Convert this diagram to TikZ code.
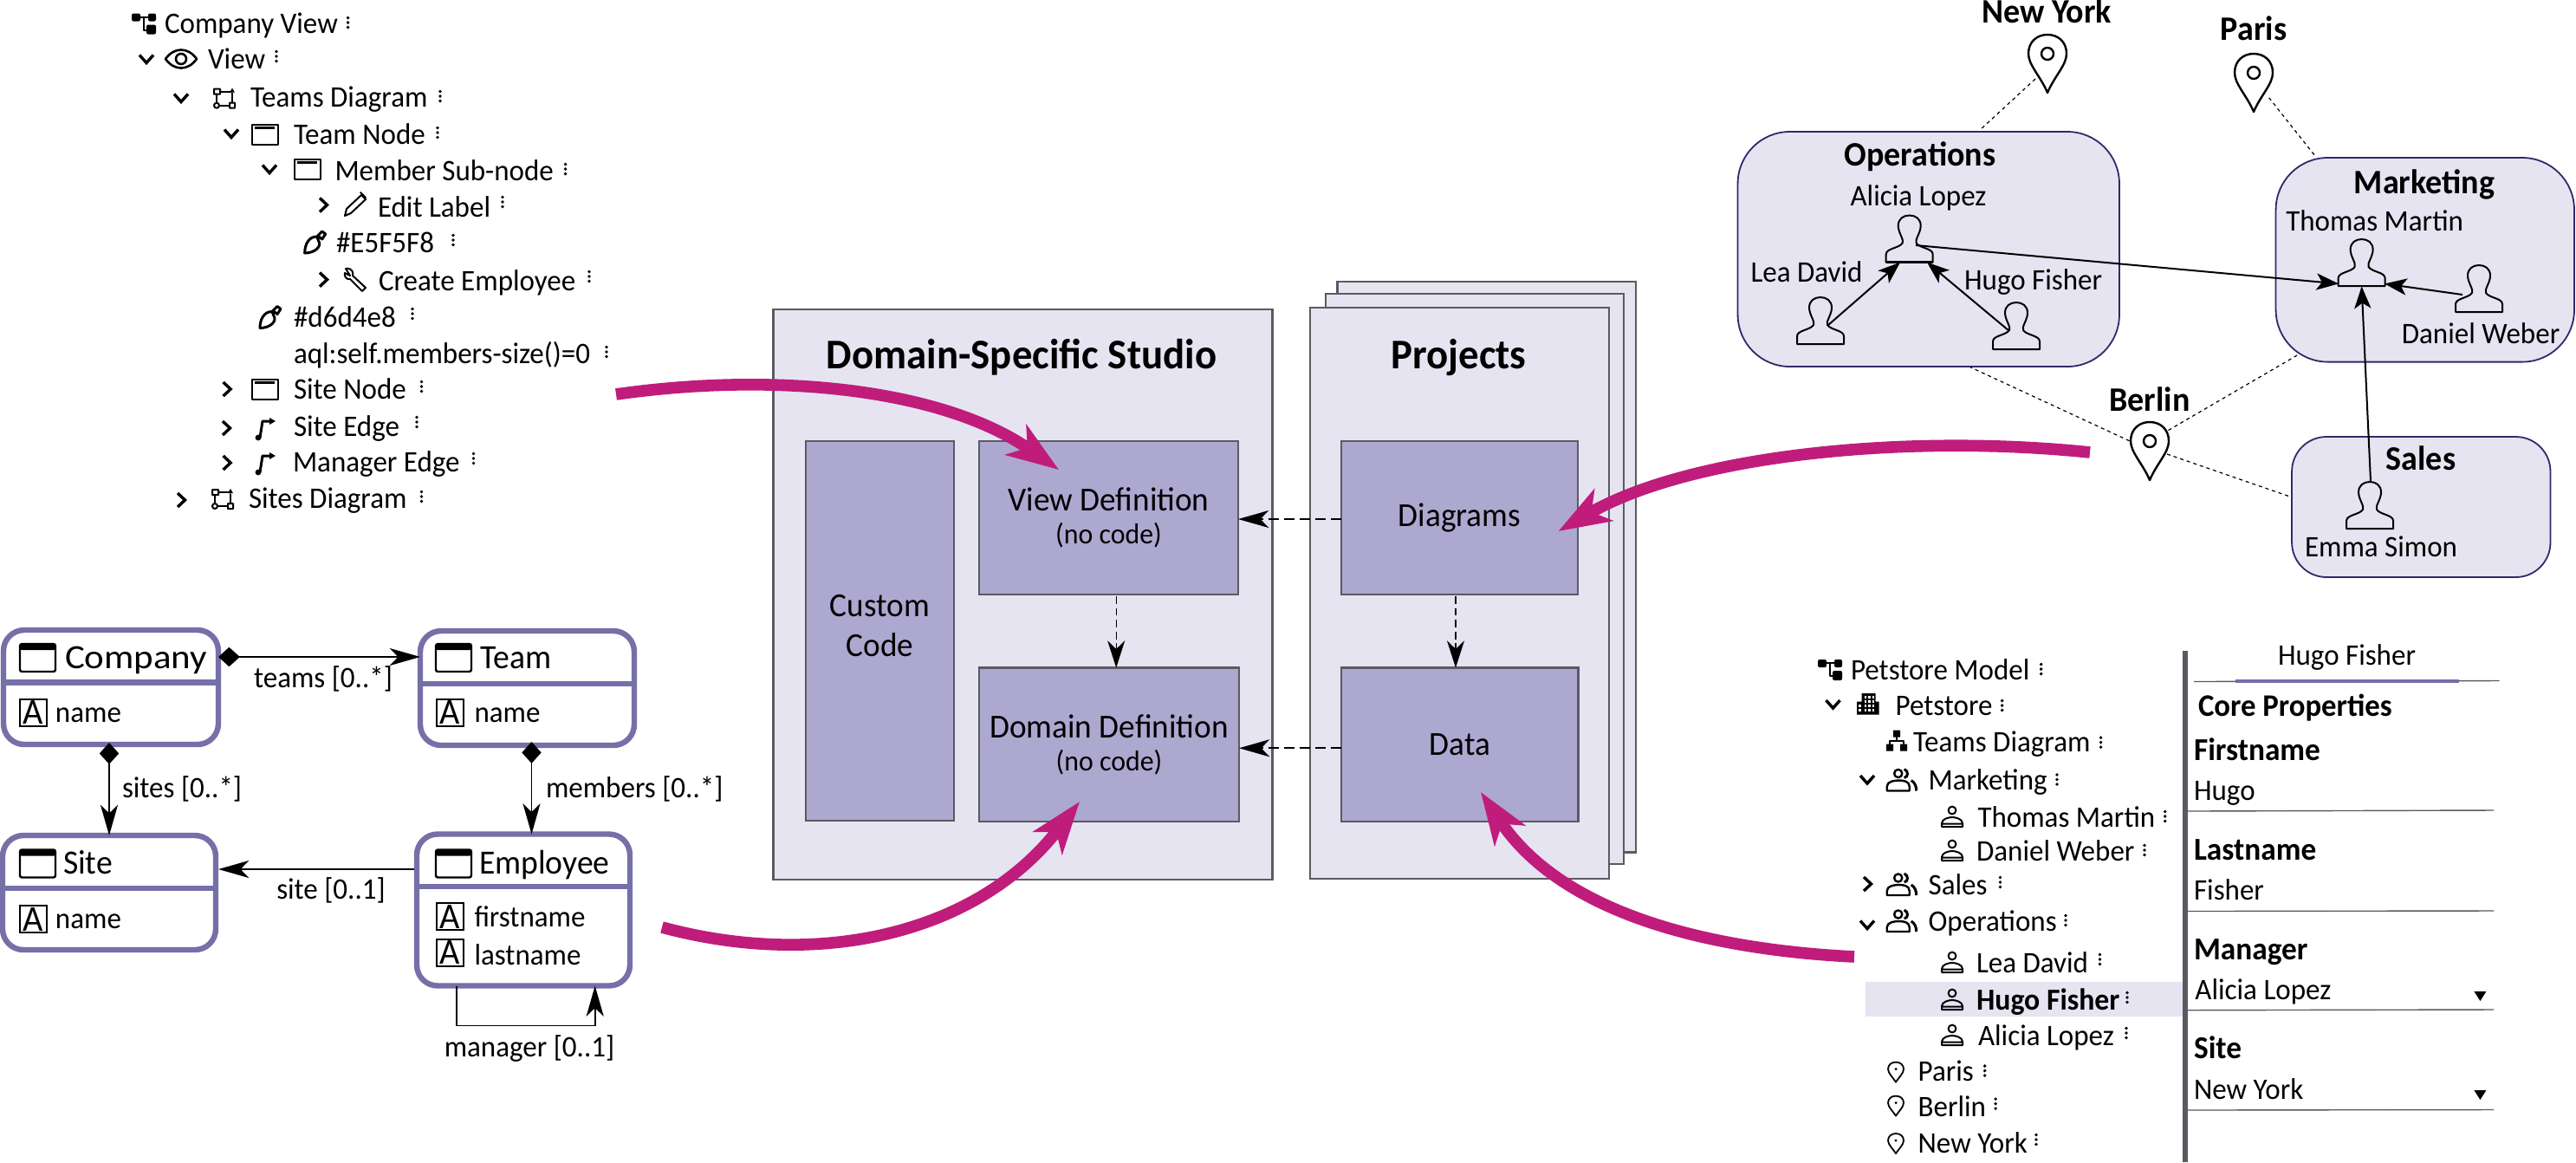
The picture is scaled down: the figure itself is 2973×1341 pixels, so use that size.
\documentclass[tikz,border=0pt]{standalone}
\usepackage{fontspec}
\usepackage{graphicx}
\setmainfont[FakeStretch=0.96]{Carlito}
\usetikzlibrary{arrows.meta,calc}
\definecolor{lilac}{HTML}{E6E4F1}
\definecolor{lilacd}{HTML}{ADA8D0}
\definecolor{umlc}{HTML}{7570A8}
\definecolor{mag}{HTML}{C01C7C}
\definecolor{edgeg}{HTML}{5A5A62}
\definecolor{navy}{HTML}{2E2A6A}
\newcommand\pxnode[7]{\node (#1) [#2, minimum width={(#5-#3)*.25pt}, minimum height={(#6-#4)*.25pt}] at ({(#3+#5)/2},{(#4+#6)/2}) {#7};}
\newcommand\rowt[4]{\node (#1) [treetxt] at (#2,#3) {#4};}
\newcommand\ic[3]{\pic at (#2,#3) {#1};}
\newcommand\keb[2]{\pic at (#1,#2) {ickeb};}
\tikzset{
  barb/.tip={Stealth[length=8.8pt,width=5pt,inset=2.4pt]},
  barbs/.tip={Stealth[length=7.8pt,width=5pt,inset=2.4pt]},
  maghead/.tip={Stealth[length=15pt,width=10.5pt,inset=4pt]},
  dia/.tip={Diamond[length=6.2pt,width=5.6pt]},
  base/.style={inner sep=0pt,outer sep=0pt},
  treetxt/.style={base,anchor=west,font=\fontsize{8.6}{10}\selectfont,text height=5.5pt,text depth=0pt},
  ctxt/.style={base,anchor=center,font=\fontsize{8.6}{10}\selectfont,text height=5.5pt,text depth=0pt},
  boldt/.style={base,anchor=center,font=\fontsize{9.9}{11}\selectfont\bfseries,text height=6pt,text depth=0pt},
  bigt/.style={base,anchor=center,font=\fontsize{12.2}{14}\selectfont\bfseries,text height=7.6pt,text depth=0pt},
  formh/.style={base,anchor=west,font=\fontsize{9.2}{10}\selectfont\bfseries,text height=5.5pt,text depth=0pt},
  outer/.style={base,draw=edgeg,fill=lilac,line width=.55pt},
  inner/.style={base,draw=edgeg,fill=lilacd,line width=.55pt,align=center,font=\fontsize{9.7}{11}\selectfont},
  umlbox/.style={base,draw=umlc,fill=white,line width=1.6pt,rounded corners=6pt},
  team/.style={base,draw=navy,fill=lilac,line width=.45pt},
  umltitle/.style={base,anchor=west,font=\fontsize{9.8}{11}\selectfont,text height=6pt,text depth=0pt},
  attrbox/.style={base,draw=black,line width=.5pt,minimum width=7.6pt,minimum height=7.6pt,font=\fontsize{10.5}{10}\selectfont},
  assoc/.style={line width=.45pt,black},
  magarrow/.style={line width=3.4pt,mag,-{maghead}},
  dep/.style={line width=.5pt,dashed,dash pattern=on 3pt off 1.5pt,-{barb}},
  depv/.style={line width=.35pt,dash pattern=on 2.2pt off 1.2pt,-{barbs}},
  loc/.style={line width=.3pt,dash pattern=on 1pt off 1pt},
  empl/.style={line width=.5pt,-{Stealth[length=6.4pt,width=4.8pt,inset=1.6pt]}},
  icon/.style={line width=.5pt,black,line join=round,line cap=round},
  ruleg/.style={draw=edgeg,line width=.35pt},
  pics/ickeb/.style={code={\fill (0,-5.5) circle (1.9) (0,0) circle (1.9) (0,5.5) circle (1.9);}},
  pics/icdown/.style={code={\draw[line width=.85pt] (-8,-4.5) -- (0,4.5) -- (8,-4.5);}},
  pics/icright/.style={code={\draw[line width=.85pt] (-4,-8) -- (4.5,0) -- (-4,8);}},
  pics/icmodel/.style={code={\fill[rounded corners=.5pt] (-14,-12) rectangle (-4,-3) (5,-12) rectangle (14,-3) (3,1) rectangle (14,12);\draw[icon] (-4,-8) -- (5,-8) (0,-8) -- (0,7) -- (3,7);}},
  pics/iceye/.style={code={\draw[icon,line width=.65pt] (-18,0) .. controls (-8,-14) and (8,-14) .. (18,0) .. controls (8,14) and (-8,14) .. (-18,0) -- cycle (0,0) circle (6);}},
  pics/icdiag/.style={code={\draw[icon] (-12,-11) rectangle (-5,-5) (-9,8) circle (3) (6,5) rectangle (12,11);\draw[icon] (-5,-8) -- (8,-8) (-9,-5) -- (-9,5) (-6,8) -- (6,8) (9,-6) -- (9,5);\fill (9,-12) -- (12,-7) -- (6,-7) -- cycle;}},
  pics/icwin/.style={code={\draw[icon] (-15,-11.5) rectangle (15,11.5);\draw[line width=.75pt] (-11.5,-7.5) -- (11.5,-7.5);}},
  pics/icpen/.style={code={\draw[icon] (-12,13) -- (-10,5) -- (7,-11) -- (12,-6) -- (-5,10) -- cycle (6,-14) -- (12,-8);}},
  pics/icbrush/.style={code={\draw[icon,line width=.75pt] (-12,13) .. controls (-12,4) and (-8,-6) .. (2,-6) -- (4,-1) .. controls (8,5) and (0,13) .. (-12,13) -- cycle (3,-7) -- (8,-12) -- (12,-9) -- (8,-3) -- cycle;}},
  pics/icwrench/.style={code={\draw[icon] (-11,-13) .. controls (-3,-14) and (-2,-8) .. (-3,-5) -- (12,9) -- (8,13) -- (-6,-1) .. controls (-10,0) and (-13,-4) .. (-12,-8) -- (-6,-5) -- cycle;}},
  pics/icedge/.style={code={\fill (-8,11) circle (3.4);\draw[icon,line width=.75pt] (-6,11) -- (-3,-8) -- (6,-8);\fill (5,-12) -- (12,-8) -- (5,-4) -- cycle;}},
  pics/icbuild/.style={code={\fill (-7,-12.5) rectangle (9,12) (-12.5,-3) rectangle (13,12);
    \foreach \hx in {-4,.5,5}{\foreach \hy in {-9.5,-4.5,.5,5.5}{\fill[white] (\hx,\hy) rectangle ++(2.6,2.8);}}
    \foreach \hy in {.5,5.5}{\fill[white] (-10.5,\hy) rectangle ++(2.4,2.8);}}},
  pics/icorg/.style={code={\fill (-4,-12) rectangle (4,-4) (-12,4) rectangle (-4,12) (4,4) rectangle (12,12);\draw[icon] (0,-4) -- (0,0) (-8,4) -- (-8,0) -- (8,0) -- (8,4);}},
  pics/icgroup/.style={code={\draw[icon,line width=.6pt] (-4,-7) circle (4.6) (-17,13) -- (-17,8) .. controls (-17,2) and (-8,1) .. (-3,1) .. controls (2,1) and (9,2) .. (9,8) -- (9,13) -- cycle;\draw[line width=.75pt] (3,-12) .. controls (8,-10) and (8,-3) .. (3,-2) (11,1) .. controls (15,3) and (17,8) .. (17,13);}},
  pics/icuser/.style={code={\draw[icon,line width=.5pt] (0,-7) circle (4.4) (-12,12) -- (-12,8) .. controls (-12,3) and (-4,1) .. (0,1) .. controls (4,1) and (12,3) .. (12,8) -- (12,12) -- cycle (-12,8.5) -- (12,8.5);}},
  pics/icpin/.style={code={\draw[line width=.6pt,line join=round] (0,67) .. controls (-8,48) and (-22,35) .. (-22,22) .. controls (-22,8) and (-12,0) .. (0,0) .. controls (12,0) and (22,8) .. (22,22) .. controls (22,35) and (8,48) .. (0,67) -- cycle (0,22) circle (7);}},
  pics/icsmallpin/.style={code={\draw[line width=.45pt,line join=round] (0,12) .. controls (-3,7) and (-9,2) .. (-9,-3) .. controls (-9,-8) and (-5,-11) .. (0,-11) .. controls (5,-11) and (9,-8) .. (9,-3) .. controls (9,2) and (3,7) .. (0,12) -- cycle;\fill (0,-3) circle (1.6);}},
  pics/icperson/.style={code={\draw[line width=.5pt,line join=round] (-27,54) -- (-27,45) .. controls (-27,38) and (-12,38) .. (-8,32) .. controls (-6,28) and (-13,20) .. (-13,12) .. controls (-13,4) and (-7,0) .. (0,0) .. controls (7,0) and (13,4) .. (13,12) .. controls (13,20) and (6,28) .. (8,32) .. controls (12,38) and (27,38) .. (27,45) -- (27,54) -- cycle;\draw[line width=.7pt] (-27,54) -- (27,54);}},
  pics/icclass/.style={code={\draw[line width=.6pt,rounded corners=.6pt] (0,0) rectangle (41,32);\fill[rounded corners=.5pt] (0,0) rectangle (41,7);}},
  pics/ictri/.style={code={\fill (-7,-5) -- (7,-5) -- (0,6) -- cycle;}},
}
\begin{document}
\begin{tikzpicture}[x=.25pt,y=-.25pt]
\useasboundingbox (0,0) rectangle (2973,1341);
\fill[white] (0,0) rectangle (2973,1341);

% ---------- top-left tree ----------
\rowt{a1}{190}{27.5}{Company View}\ic{icmodel}{166}{27.5}\keb{401.6}{26}
\rowt{a2}{240}{68}{View}\ic{icdown}{169}{68}\ic{iceye}{209}{68}\keb{319}{65}
\rowt{a3}{289}{112}{Teams Diagram}\ic{icdown}{209}{113}\ic{icdiag}{259}{113.7}\keb{508}{111}
\rowt{a4}{339}{155}{Team Node}\ic{icdown}{267}{154}\ic{icwin}{305.7}{155}\keb{505}{153}
\rowt{a5}{386.5}{197.5}{Member Sub-node}\ic{icdown}{311}{195}\ic{icwin}{354.7}{195}\keb{652.6}{195}
\rowt{a6}{436}{239}{Edit Label}\ic{icright}{373}{236.5}\ic{icpen}{410}{236}\keb{580}{233}
\rowt{a7}{388}{280.5}{\#E5F5F8}\ic{icbrush}{363.7}{279}\keb{523}{277}
\rowt{a8}{437}{324}{Create Employee}\ic{icright}{373}{322.6}\ic{icwrench}{410}{323}\keb{680}{319}
\rowt{a9}{339}{366}{\#d6d4e8}\ic{icbrush}{312}{365.5}\keb{476}{362}
\rowt{a10}{339}{408}{aql:self.members-size()=0}\keb{700}{406}
\rowt{a11}{339}{449}{Site Node}\ic{icright}{261.6}{449}\ic{icwin}{305.7}{449}\keb{486.5}{446}
\rowt{a12}{339}{492}{Site Edge}\ic{icright}{261}{494}\ic{icedge}{306}{494}\keb{481}{487}
\rowt{a13}{338}{533}{Manager Edge}\ic{icright}{261.6}{534}\ic{icedge}{306}{534}\keb{546.5}{529}
\rowt{a14}{287}{575}{Sites Diagram}\ic{icright}{209}{577}\ic{icdiag}{257}{576}\keb{486.5}{573}

% ---------- UML ----------
\pxnode{company}{umlbox}{4}{727}{252}{859}{}
\pxnode{team}{umlbox}{485}{728}{732}{860}{}
\pxnode{site}{umlbox}{3}{964}{249}{1096}{}
\pxnode{employee}{umlbox}{481}{962.5}{727}{1137.5}{}
\draw[umlc,line width=1.6pt] (4,787.5) -- (252,787.5) (485,789) -- (732,789) (3,1025) -- (249,1025) (481,1023) -- (727,1023);
\pic at (23,743) {icclass};\pic at (503,743) {icclass};\pic at (23,980.5) {icclass};\pic at (503,980.5) {icclass};
\node (tcompany) [umltitle] at (75,759) {\scalebox{1.14}[1]{Company}};
\node (tteam) [umltitle] at (554.5,759) {Team};
\node (tsite) [umltitle] at (73,996.5) {Site};
\node (temployee) [umltitle] at (553,996) {Employee};
\node (ac) [attrbox] at (38.5,822.5) {A};\node (nc) [treetxt] at (64,822.5) {name};
\node (at) [attrbox] at (519.5,822.5) {A};\node (nt) [treetxt] at (547.5,822.5) {name};
\node (as) [attrbox] at (38.5,1060.5) {A};\node (ns) [treetxt] at (64,1060) {name};
\node (ae) [attrbox] at (519.5,1057.5) {A};\node (ne) [treetxt] at (547.5,1058) {firstname};
\node (al) [attrbox] at (519.5,1099.5) {A};\node (nl) [treetxt] at (547.5,1102) {lastname};
\draw[assoc,{dia}-{barb}] ([shift={(0,-35)}]company.east) -- ([shift={(0,-36)}]team.west);
\node (lteams) [ctxt] at (373,782) {teams [0..*]};
\draw[assoc,{dia}-{barb}] ([shift={(-2,-2)}]company.south) -- (site.north);
\node (lsites) [treetxt] at (141,909) {sites [0..*]};
\draw[assoc,{dia}-{barb}] ([shift={(5,-4)}]team.south) -- ([shift={(9.5,0)}]employee.north);
\node (lmembers) [treetxt] at (630,909) {members [0..*]};
\draw[assoc,-{barb}] ([shift={(-3,-47)}]employee.west) -- ([shift={(3,-27)}]site.east);
\node (lsite) [ctxt] at (382,1026) {site [0..1]};
\draw[assoc,-{barb}] ([shift={(-77,0)}]employee.south) -- ++(0,46) -| ([shift={(82.7,0)}]employee.south);
\node (lmanager) [ctxt] at (611,1208) {manager [0..1]};

% ---------- centre ----------
\pxnode{studio}{outer}{892.5}{357}{1468.5}{1015}{}
\pxnode{pback}{outer}{1543.5}{325}{1888}{983.5}{}
\pxnode{pmid}{outer}{1530}{339}{1874}{997}{}
\pxnode{projects}{outer}{1512}{355}{1857}{1014}{}
\node (tstudio) [bigt] at (1179,410) {Domain-Specific Studio};
\node (tprojects) [bigt] at (1683.5,410) {Projects};
\pxnode{custom}{inner}{930}{509}{1101}{947}{}
\node (tcustom) [base,align=center,font=\fontsize{9.7}{11.5}\selectfont] at (1015.5,722) {Custom\\Code};
\pxnode{viewdef}{inner}{1130}{509}{1429}{686}{View Definition\\[-1.5pt]{\fontsize{8.3}{9}\selectfont (no code)}}
\pxnode{domdef}{inner}{1130}{770.5}{1430}{948}{Domain Definition\\[-1.5pt]{\fontsize{8.3}{9}\selectfont (no code)}}
\pxnode{diagrams}{inner}{1548}{509}{1821}{686}{Diagrams}
\pxnode{data}{inner}{1548}{770.5}{1821.5}{948}{Data}
\draw[dep] ([shift={(0,1.5)}]diagrams.west) -- ([shift={(0,1.5)}]viewdef.east);
\draw[dep] ([shift={(0,4)}]data.west) -- ([shift={(0,4)}]domdef.east);
\draw[depv] ([shift={(8.7,2)}]viewdef.south) -- ([shift={(8.7,0)}]viewdef.south |- domdef.north);
\draw[depv] ([shift={(-4.5,2)}]diagrams.south) -- ([shift={(-4.5,0)}]diagrams.south |- data.north);

% ---------- top-right object diagram ----------
\node (ops) [team,rounded corners=15pt,minimum width=110.1pt,minimum height=67.75pt] at (2225.75,287.5) {};
\node (mkt) [team,rounded corners=15pt,minimum width=86.1pt,minimum height=58.9pt] at (2798.75,299.8) {};
\node (sales) [team,rounded corners=10pt,minimum width=74.6pt,minimum height=40.5pt] at (2794.25,585) {};
\node (tops) [boldt] at (2216,179) {Operations};
\node (tmkt) [boldt] at (2798,211) {Marketing};
\node (tsales) [boldt] at (2794,530) {Sales};
\node (alicia) [base,minimum width=13.75pt,minimum height=13.5pt] at (2203.7,275.5) {};\pic at (2203.7,248.5) {icperson};
\node (lea) [base,minimum width=13.75pt,minimum height=13.5pt] at (2101,370) {};\pic at (2101,343) {icperson};
\node (hugo) [base,minimum width=13.75pt,minimum height=13.5pt] at (2327,376) {};\pic at (2327,349) {icperson};
\node (thomas) [base,minimum width=13.75pt,minimum height=13.5pt] at (2725.6,303) {};\pic at (2725.6,276) {icperson};
\node (daniel) [base,minimum width=13.75pt,minimum height=13.5pt] at (2861,333) {};\pic at (2861,306) {icperson};
\node (emma) [base,minimum width=13.75pt,minimum height=13.5pt] at (2735,583) {};\pic at (2735,556) {icperson};
\node (lalicia) [ctxt] at (2214,226) {Alicia Lopez};
\node (llea) [ctxt] at (2085,314) {Lea David};
\node (lhugo) [ctxt] at (2346.6,323) {Hugo Fisher};
\node (lthomas) [ctxt] at (2740.6,255) {Thomas Martin};
\node (ldaniel) [ctxt] at (2863,385) {Daniel Weber};
\node (lemma) [ctxt] at (2748,631) {Emma Simon};
\node (newyork) [base,minimum width=11pt,minimum height=17pt] at (2363,74) {};\pic at (2363,40) {icpin};
\node (paris) [base,minimum width=11pt,minimum height=17pt] at (2601,95) {};\pic at (2601,62) {icpin};
\node (berlin) [base,minimum width=11pt,minimum height=17pt] at (2481,520) {};\pic at (2481,487) {icpin};
\node (lny) [boldt] at (2362,14) {New York};
\node (lparis) [boldt] at (2601,34) {Paris};
\node (lberlin) [boldt] at (2481,462) {Berlin};
\draw[loc] ([shift={(-14,17)}]newyork.center) -- ([shift={(58.8,-137)}]ops.center);
\draw[loc] ([shift={(17.6,17.7)}]paris.center) -- ([shift={(-126,-118.8)}]mkt.center);
\draw[loc] ([shift={(-23.5,-11.3)}]berlin.center) -- ([shift={(48.2,136.2)}]ops.center);
\draw[loc] ([shift={(21.5,-23.5)}]berlin.center) -- ([shift={(-147.7,110.2)}]mkt.center);
\draw[loc] ([shift={(20,4)}]berlin.center) -- ([shift={(-153.2,-12.6)}]sales.center);
\draw[empl] ([shift={(7.3,7.5)}]alicia.center) -- ([shift={(-26.6,24.4)}]thomas.center);
\draw[empl] ([shift={(9,5)}]lea.center) -- ([shift={(-10.7,27.2)}]alicia.center);
\draw[empl] ([shift={(-8.5,5.6)}]hugo.center) -- ([shift={(20.3,27.2)}]alicia.center);
\draw[empl] ([shift={(-19,7)}]daniel.center) -- ([shift={(26.4,24.4)}]thomas.center);
\draw[empl] ([shift={(1,-27)}]emma.center) -- ([shift={(0,27.4)}]thomas.center);

% ---------- bottom-right tree ----------
\fill[lilac] (2153,1133) rectangle (2521,1173);
\rowt{b1}{2136}{773}{Petstore Model}\ic{icmodel}{2112}{773}\keb{2355.6}{772}
\rowt{b2}{2187.6}{814}{Petstore}\ic{icdown}{2115.5}{812.6}\ic{icbuild}{2155.6}{812.6}\keb{2310.6}{814}
\rowt{b3}{2208}{856.6}{Teams Diagram}\ic{icorg}{2189}{854.7}\keb{2424.5}{856.6}
\rowt{b4}{2225.6}{900}{Marketing}\ic{icdown}{2155}{899.5}\ic{icgroup}{2194.7}{899.5}\keb{2374}{899.5}
\rowt{b5}{2282.5}{943}{Thomas Martin}\ic{icuser}{2253}{942}\keb{2498.7}{942}
\rowt{b6}{2281}{982.5}{Daniel Weber}\ic{icuser}{2253}{981}\keb{2475}{981}
\rowt{b7}{2225.6}{1021}{Sales}\ic{icright}{2155}{1020}\ic{icgroup}{2194.7}{1020}\keb{2308.5}{1018}
\rowt{b8}{2225.6}{1063}{Operations}\ic{icdown}{2155}{1067}\ic{icgroup}{2194.7}{1062}\keb{2384}{1062}
\rowt{b9}{2281}{1111}{Lea David}\ic{icuser}{2253}{1110}\keb{2423.4}{1107}
\node (b10) [treetxt,font=\fontsize{8.8}{10}\selectfont\bfseries] at (2281,1154) {Hugo Fisher};\ic{icuser}{2253}{1153}\keb{2455}{1151}
\rowt{b11}{2283}{1195}{Alicia Lopez}\ic{icuser}{2253}{1194}\keb{2454}{1192}
\rowt{b12}{2213.6}{1236.6}{Paris}\ic{icsmallpin}{2188}{1236.6}\keb{2290.6}{1235.5}
\rowt{b13}{2213.6}{1277.5}{Berlin}\ic{icsmallpin}{2188}{1275.6}\keb{2303}{1273.6}
\rowt{b14}{2213.6}{1319.6}{New York}\ic{icsmallpin}{2188}{1319}\keb{2350}{1315}
\draw[edgeg,line width=1.4pt] (2522,751) -- (2522,1341);
\node (ftab) [ctxt] at (2708.5,756.5) {Hugo Fisher};
\draw[ruleg] (2532,786.5) -- (2884.6,785.5);
\draw[umlc,line width=1pt] (2579.5,786) -- (2838,786);
\node (fcore) [base,anchor=west,font=\fontsize{9.05}{11}\selectfont\bfseries,text height=6pt,text depth=0pt] at (2537,814.6) {Core Properties};
\node (f1) [formh] at (2532,866) {Firstname};
\node (v1) [treetxt] at (2532,912) {Hugo};
\draw[ruleg] (2525,936) -- (2878,935);
\node (f2) [formh] at (2532,981) {Lastname};
\node (v2) [treetxt] at (2532,1027) {Fisher};
\draw[ruleg] (2525,1051.5) -- (2878,1051);
\node (f3) [formh] at (2532,1096) {Manager};
\node (v3) [treetxt] at (2533.4,1142) {Alicia Lopez};
\ic{ictri}{2862.4}{1149}
\draw[ruleg] (2525,1165.7) -- (2878,1165);
\node (f4) [formh] at (2532,1210.5) {Site};
\node (v4) [treetxt] at (2532,1257) {New York};
\ic{ictri}{2862.4}{1263}
\draw[ruleg] (2525,1281) -- (2878,1280.5);

% ---------- magenta arrows ----------
\coordinate (m1s) at (711,455);\coordinate (m1e) at (1222,542);
\coordinate (m2s) at (764,1070);\coordinate (m2e) at (1246,925);
\coordinate (m3s) at (2412,522);\coordinate (m3e) at (1798.5,613);
\coordinate (m4s) at (2140,1104);\coordinate (m4e) at (1709,914);
\draw[magarrow] (m1s) .. controls (900,428) and (1090,450) .. (m1e);
\draw[magarrow] (m2s) .. controls (950,1120) and (1130,1075) .. (m2e);
\draw[magarrow] (m3s) .. controls (2200,500) and (1950,525) .. (m3e);
\draw[magarrow] (m4s) .. controls (1960,1095) and (1800,1050) .. (m4e);
\end{tikzpicture}
\end{document}
